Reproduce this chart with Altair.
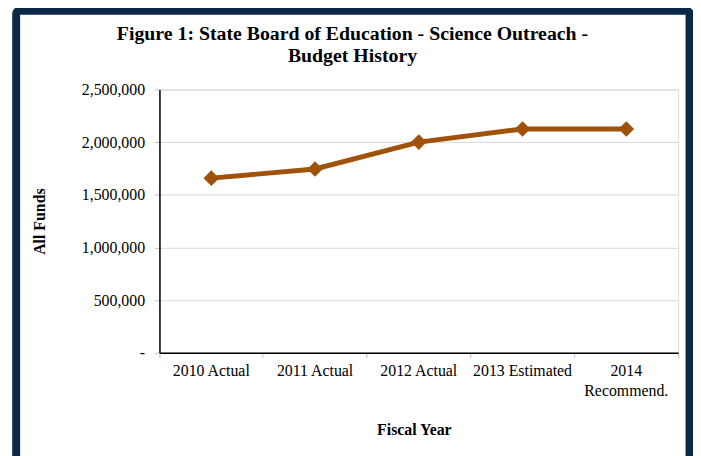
import altair as alt
import pandas as pd

categories = ["2010 Actual", "2011 Actual", "2012 Actual", "2013 Estimated", "2014 Recommend."]
all_funds = [1658000, 1745000, 2000000, 2125000, 2125000]
y_ticks = [0, 500000, 1000000, 1500000, 2000000, 2500000]
title_lines = ["Figure 1: State Board of Education - Science Outreach -", "Budget History"]

df = pd.DataFrame({"year": categories, "funds": all_funds})
one = pd.DataFrame({"k": [0]})

SERIF = "Liberation Serif"
LINE_COLOR = "#A0520A"
NAVY = "#0C2849"

x_enc = alt.X(
    "year:N",
    sort=categories,
    scale=alt.Scale(type="band", paddingInner=0, paddingOuter=0),
    axis=alt.Axis(
        title="Fiscal Year",
        titleFont=SERIF, titleFontSize=16, titleFontWeight="bold", titleColor="black",
        titleX=257, titleY=83, titleBaseline="alphabetic", titleAlign="center",
        labelAngle=0, labelFont=SERIF, labelFontSize=16, labelColor="black",
        labelPadding=5, labelLineHeight=20,
        labelExpr="datum.label == '2014 Recommend.' ? ['2014', 'Recommend.'] : datum.label",
        bandPosition=1, tickExtra=True, ticks=True, tickSize=5, tickColor="#bfbfbf",
        domainColor="black", domainWidth=1.5, grid=False,
    ),
)

y_enc = alt.Y(
    "funds:Q",
    scale=alt.Scale(domain=[0, 2500000], nice=False, zero=True),
    axis=alt.Axis(
        title="All Funds",
        titleFont=SERIF, titleFontSize=16, titleFontWeight="bold", titleColor="black",
        titleX=-116, titleY=133, titleBaseline="alphabetic", titleAlign="center",
        values=y_ticks,
        labelExpr="datum.value == 0 ? '-\u00a0\u00a0\u00a0' : format(datum.value, ',')",
        labelFont=SERIF, labelFontSize=16, labelColor="black", labelPadding=10,
        tickSize=5, tickColor="#bfbfbf",
        domainColor="black", domainWidth=1.5,
        grid=True, gridColor="#d9d9d9", gridWidth=1,
    ),
)

line = alt.Chart(df).mark_line(color=LINE_COLOR, strokeWidth=5).encode(x=x_enc, y=y_enc)
points = alt.Chart(df).mark_point(
    shape="diamond", filled=True, size=250, color=LINE_COLOR, opacity=1
).encode(x=alt.X("year:N", sort=categories), y="funds:Q")

title = alt.Chart(one).mark_text(
    font=SERIF, fontSize=20, fontWeight="bold", color="black",
    align="center", baseline="alphabetic", lineHeight=22, clip=False,
).encode(x=alt.value(195), y=alt.value(-50), text=alt.value(title_lines))

frame = alt.Chart(one).mark_rect(
    fill=None, fillOpacity=0, stroke=NAVY, strokeWidth=8, clip=False, cornerRadius=3
).encode(
    x=alt.value(-144.75), x2=alt.value(535.5),
    y=alt.value(-79.5), y2=alt.value(420),
)

chart = alt.layer(line, points, title, frame).properties(
    width=524,
    height=266,
    padding={"left": 153, "top": 80, "right": 15, "bottom": 102},
    autosize=alt.AutoSizeParams(type="none"),
).configure_view(
    stroke="#a6a6a6", strokeWidth=1
).configure(background="white")

chart.save("out.html", embed_options={"renderer": "svg", "actions": False})
